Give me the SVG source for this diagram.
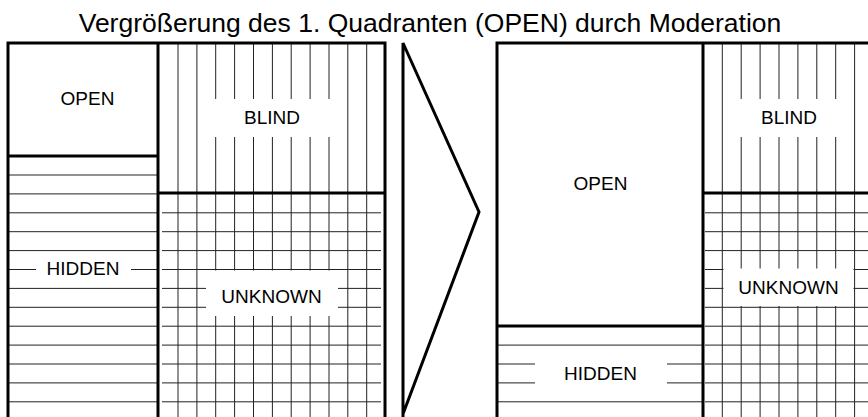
<svg xmlns="http://www.w3.org/2000/svg" width="868" height="417" viewBox="0 0 868 417">
<defs>
<style>
.thin{stroke:#222;stroke-width:1;fill:none}
.thick{stroke:#000;stroke-width:3;fill:none}
.gap{fill:#fff;stroke:none}
.lbl{font-family:"Liberation Sans",Arial,sans-serif;font-size:19px;fill:#000;text-anchor:middle}
.title{font-family:"Liberation Sans",Arial,sans-serif;font-size:26.5px;fill:#000;text-anchor:middle}
</style>
</defs>
<rect x="0" y="0" width="868" height="417" fill="#fff"/>
<text class="title" x="430" y="32">Vergrößerung des 1. Quadranten (OPEN) durch Moderation</text>

<!-- LEFT WINDOW -->
<g id="left-blind">
<path class="thin" d="M178 43V417M196.9 43V417M215.7 43V417M234.6 43V417M253.5 43V417M272.4 43V417M291.2 43V417M310.1 43V417M329 43V417M347.8 43V417M366.7 43V417"/>
<rect class="gap" x="206" y="99" width="132" height="38"/>
<text class="lbl" x="272" y="124">BLIND</text>
</g>
<g id="left-hidden">
<path class="thin" d="M8 175H157M8 193.9H157M8 212.8H157M8 231.7H157M8 250.6H157M8 269.5H157M8 288.4H157M8 307.3H157M8 326.2H157M8 345.1H157M8 364H157M8 382.9H157M8 401.8H157"/>
<rect class="gap" x="36" y="256" width="95" height="28"/>
<text class="lbl" x="83" y="275">HIDDEN</text>
</g>
<g id="left-unknown">
<path class="thin" d="M162 212.8H381M162 231.7H381M162 250.6H381M162 269.5H381M162 288.4H381M162 307.3H381M162 326.2H381M162 345.1H381M162 364H381M162 382.9H381M162 401.8H381"/>
<rect class="gap" x="206" y="270.5" width="132" height="45.5"/>
<text class="lbl" x="271.5" y="302.5">UNKNOWN</text>
</g>
<g id="left-open">
<rect x="9.5" y="44.5" width="147" height="110" fill="#fff"/>
<text class="lbl" x="87.5" y="105">OPEN</text>
</g>
<g id="left-frame">
<path class="thick" d="M8 420V43H385V420M158 43V420M8 156H158M158 193H385"/>
</g>

<!-- RIGHT WINDOW -->
<g id="right-blind">
<path class="thin" d="M722.3 43V417M741.2 43V417M760.1 43V417M779 43V417M797.9 43V417M816.8 43V417M835.7 43V417M854.6 43V417"/>
<rect class="gap" x="732" y="99" width="114" height="38"/>
<text class="lbl" x="789" y="124">BLIND</text>
</g>
<g id="right-unknown">
<path class="thin" d="M705 212.8H868M705 231.7H868M705 250.6H868M705 269.5H868M705 288.4H868M705 307.3H868M705 326.2H868M705 345.1H868M705 364H868M705 382.9H868M705 401.8H868"/>
<rect class="gap" x="723.5" y="268.5" width="130" height="37.5"/>
<text class="lbl" x="788.5" y="294">UNKNOWN</text>
</g>
<g id="right-hidden">
<path class="thin" d="M497 345.1H703M497 364H703M497 382.9H703M497 401.8H703"/>
<rect class="gap" x="535" y="350" width="132" height="45"/>
<text class="lbl" x="600.5" y="380">HIDDEN</text>
</g>
<g id="right-open">
<text class="lbl" x="600.5" y="190">OPEN</text>
</g>
<g id="right-frame">
<path class="thick" d="M497 420V43H870M703 43V420M497 326H703M703 193H870"/>
</g>

<!-- connector: enlargement arrow -->
<g id="connectors">
<path class="thick" stroke-linejoin="miter" d="M403 420V43L479 212L403 414"/>
</g>
</svg>
